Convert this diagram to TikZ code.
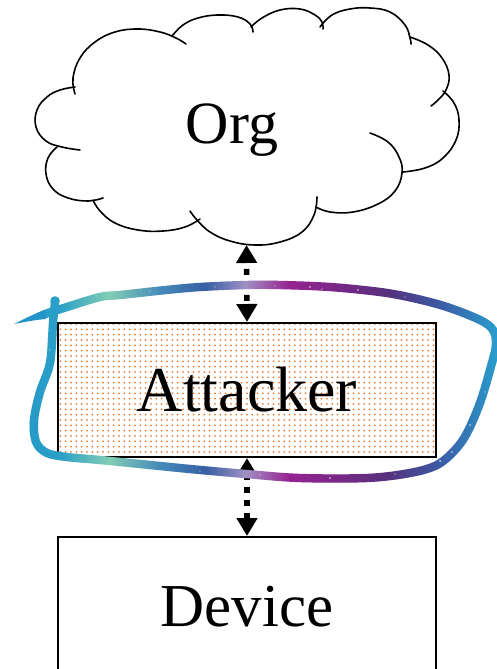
\documentclass[tikz,border=0pt]{standalone}
\usepackage{fontspec}
\setmainfont{Liberation Serif}
\usetikzlibrary{arrows.meta}

\definecolor{dotor}{RGB}{237,125,49}
\definecolor{gs0}{RGB}{35,148,200}
\definecolor{gs1}{RGB}{42,160,200}
\definecolor{gs2}{RGB}{130,205,180}
\definecolor{gs3}{RGB}{70,140,185}
\definecolor{gs4}{RGB}{55,95,165}
\definecolor{gs5}{RGB}{160,145,195}
\definecolor{gs6}{RGB}{150,35,145}
\definecolor{gs7}{RGB}{120,40,135}
\definecolor{gs8}{RGB}{85,50,125}
\definecolor{gs9}{RGB}{60,90,165}
\definecolor{gs10}{RGB}{40,160,205}

\newcommand\loopdraw[1]{\draw[#1] plot[smooth,tension=0.55] coordinates {(55,302) (53,323) (50,363) (40,392) (34,420) (36,442) (47,453) (67,457) (100,460) (140,464) (190,469) (246,474) (300,478) (367,478) (410,473) (437,465) (455,450) (467,433) (480,403) (490,370) (496,345) (493,330) (480,320) (447,307) (413,298) (380,292) (330,287) (280,285) (246,285) (200,287) (166,290) (120,295) (100,297) (67,307) (45,314)};}

% strips of width 2 between x=#1 and x=#2, colour from #3 to #4
\newcommand\gstrips[4]{%
  \pgfmathtruncatemacro\gN{(#2-#1)/2}%
  \foreach \k in {1,...,\gN}{%
    \pgfmathsetmacro\gxl{#1+2*(\k-1)}%
    \pgfmathtruncatemacro\gp{100-100*(\k-0.5)/\gN}%
    \begin{scope}
      \clip (\gxl-0.2,0) rectangle (\gxl+2.2,669);
      \loopdraw{line width=8.4pt, line cap=round, color={#3!\gp!#4}}
    \end{scope}
  }}

\tikzset{
  cloudline/.style={line width=1.6pt, line cap=round},
  box/.style={draw, line width=2pt, minimum width=378pt, inner sep=0pt},
  dlink/.style={line width=5.5pt, dash pattern=on 6pt off 7pt,
    {Triangle[width=20pt,length=18pt]}-{Triangle[width=20pt,length=18pt]}},
  spark/.style={fill=white, opacity=0.8}
}

\begin{document}
\begin{tikzpicture}[x=1pt,y=-1pt]
\useasboundingbox (0,0) rectangle (497,669);
\clip (0,0) rectangle (497,669);

% cloud
\draw[cloudline] plot[smooth,tension=0.7] coordinates {(80,150) (62,147) (46,141) (36,127) (37,110) (47,97) (60,90) (75,87)};
\draw[cloudline] plot[smooth,tension=0.7] coordinates {(75,94) (73,78) (80,58) (95,42) (115,32) (138,29) (160,32) (176,38) (186,44)};
\draw[cloudline] plot[smooth,tension=0.7] coordinates {(172,36) (183,25) (198,18) (218,15) (238,17) (250,24) (253,32)};
\draw[cloudline] plot[smooth,tension=0.7] coordinates {(251,27) (262,18) (280,10) (300,9) (315,15) (322,22) (323,29)};
\draw[cloudline] plot[smooth,tension=0.7] coordinates {(320,27) (332,15) (350,9) (370,8) (390,12) (405,25) (410,38) (411,44)};
\draw[cloudline] plot[smooth,tension=0.7] coordinates {(410,37) (428,45) (442,58) (449,75) (446,90) (438,100) (431,106)};
\draw[cloudline] plot[smooth,tension=0.7] coordinates {(443,91) (454,103) (459,120) (456,140) (443,158) (425,168) (403,172)};
\draw[cloudline] plot[smooth,tension=0.7] coordinates {(370,133) (388,142) (399,157) (402,173) (395,191) (378,204) (353,212) (330,212) (316,207)};
\draw[cloudline] plot[smooth,tension=0.7] coordinates {(317,197) (314,215) (302,232) (280,242) (255,245) (230,241) (210,232) (197,220) (190,211)};
\draw[cloudline] plot[smooth,tension=0.7] coordinates {(200,219) (185,227) (163,231) (138,230) (115,223) (100,211) (93,200)};
\draw[cloudline] plot[smooth,tension=0.7] coordinates {(103,198) (88,201) (68,198) (53,189) (46,174) (48,158) (57,147)};

\node[font=\fontsize{60}{66}\selectfont, anchor=base, inner sep=0pt] (org) at (232,143) {Org};
\coordinate (orgb) at (246.5,245);

\node[box, minimum height=134pt] (att) at (247,390) {};
\begin{scope}
  \clip (59.2,324.2) rectangle (434.8,455.8);
  \fill[dotor] \foreach \i in {0,...,71}{\foreach \j in {0,...,25}{(60.4+\i*5.33,324.0+\j*5.33) circle (1.0pt)}};
\end{scope}
\node[font=\fontsize{64}{70}\selectfont, inner sep=0pt] (attl) at (att.center) {Attacker};
\node[box, minimum height=140pt, font=\fontsize{61}{67}\selectfont] (dev) at (247,607) {Device};

\draw[dlink, dash phase=6pt] (orgb) -- (att.north);
\draw[dlink, dash phase=1pt] (att.south) -- (dev.north);

% glitter loop, coloured by x in narrow strips
\gstrips{0}{60}{gs0}{gs1}
\gstrips{60}{110}{gs1}{gs2}
\gstrips{110}{160}{gs2}{gs3}
\gstrips{160}{206}{gs3}{gs4}
\gstrips{206}{246}{gs4}{gs5}
\gstrips{246}{290}{gs5}{gs6}
\gstrips{290}{340}{gs6}{gs7}
\gstrips{340}{390}{gs7}{gs8}
\gstrips{390}{440}{gs8}{gs9}
\gstrips{440}{500}{gs9}{gs10}
\fill[gs0] (44,310) .. controls (32,315) and (24,319) .. (14,324) .. controls (25,322) and (34,320) .. (46,319) -- cycle;
\fill[gs1] (55,301) circle (4.8pt);
\foreach \sx/\sy/\sr in {310/287/0.9, 322/289/0.7, 215/287/0.6, 150/291/0.7, 358/290/0.8, 405/297/0.6,
  200/471/0.7, 330/478/0.9, 395/474/0.7, 440/461/1.0, 452/452/0.8, 485/392/0.6, 470/425/0.8,
  50/350/0.6, 42/400/0.7, 96/296/0.6, 275/286/0.6, 260/475/0.6}
  \fill[spark] (\sx,\sy) circle (\sr pt);
\end{tikzpicture}
\end{document}
